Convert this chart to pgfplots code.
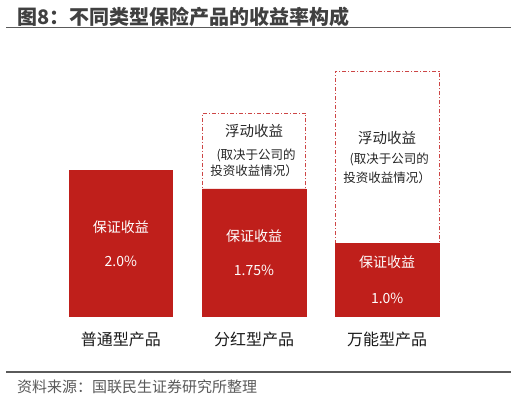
\documentclass[border=0pt]{standalone}
\usepackage{pgfplots}
\pgfplotsset{compat=1.18}
\usepackage{fontspec}
\setmainfont{Noto Sans CJK SC}
\definecolor{barred}{RGB}{191,31,27}
\definecolor{dashred}{RGB}{205,70,70}
\definecolor{titlegray}{RGB}{64,64,64}
\definecolor{linegray}{RGB}{90,90,90}
\definecolor{srcgray}{RGB}{89,89,89}
\newcommand{\fs}[1]{\fontsize{#1}{#1}\selectfont}
\begin{document}
\begin{tikzpicture}[x=1pt,y=1pt]
\path (0,0) rectangle (516,401);
% title and rules
\node[anchor=west,inner sep=0pt,text=titlegray] at (17,384.5) {\fs{20}\bfseries 图8：不同类型保险产品的收益率构成};
\draw[linegray,line width=1.6pt] (6,373.5) -- (510.5,373.5);
\draw[linegray,line width=1.6pt] (6,28.7) -- (510.5,28.7);
\node[anchor=west,inner sep=0pt,text=srcgray] at (17,13.7) {\fs{15}资料来源：国联民生证券研究所整理};
\begin{axis}[
  at={(54.2pt,85pt)}, anchor=south west,
  scale only axis, width=399.6pt, height=290.6pt,
  xmin=-0.5, xmax=2.5, ymin=0, ymax=4,
  enlargelimits=false, clip=false,
  axis line style={draw=none},
  major tick length=0pt,
  ytick=\empty,
  xtick={0,1,2},
  xticklabels={普通型产品,分红型产品,万能型产品},
  xticklabel style={font=\fs{16}, text=black!90, anchor=center, yshift=-23pt},
  ybar, bar width=103.5pt,
]
\addplot[fill=white, draw=dashred, line width=0.9pt, dash pattern=on 4pt off 2pt on 1pt off 2pt, bar shift=0pt] coordinates {(1,2.79) (2,3.37)};
\addplot[fill=barred, draw=barred, bar shift=0pt] coordinates {(0,2.0) (1,1.75) (2,1.0)};
% labels in guaranteed parts
\node[text=white,font=\fs{14}] at (axis cs:0,1.225) {保证收益};
\node[text=white,font=\fs{14}] at (axis cs:0,0.757) {2.0\%};
\node[text=white,font=\fs{14}] at (axis cs:1,1.101) {保证收益};
\node[text=white,font=\fs{14}] at (axis cs:1,0.633) {1.75\%};
\node[text=white,font=\fs{14}] at (axis cs:2,0.739) {保证收益};
\node[text=white,font=\fs{14}] at (axis cs:2,0.244) {1.0\%};
% labels in floating parts
\node[text=black!85,font=\fs{14.5}] at (axis cs:1,2.546) {浮动收益};
\node[text=black!85,font=\fs{12.5},align=left,inner sep=0pt] at (axis cs:1,2.106) {\hspace*{0.5em}(取决于公司的\\[1.5pt]投资收益情况）};
\node[text=black!85,font=\fs{14.5}] at (axis cs:2,2.45) {浮动收益};
\node[text=black!85,font=\fs{12.5},align=left,inner sep=0pt] at (axis cs:2,2.032) {\hspace*{0.5em}(取决于公司的\\[4.2pt]投资收益情况）};
\end{axis}
\end{tikzpicture}
\end{document}
